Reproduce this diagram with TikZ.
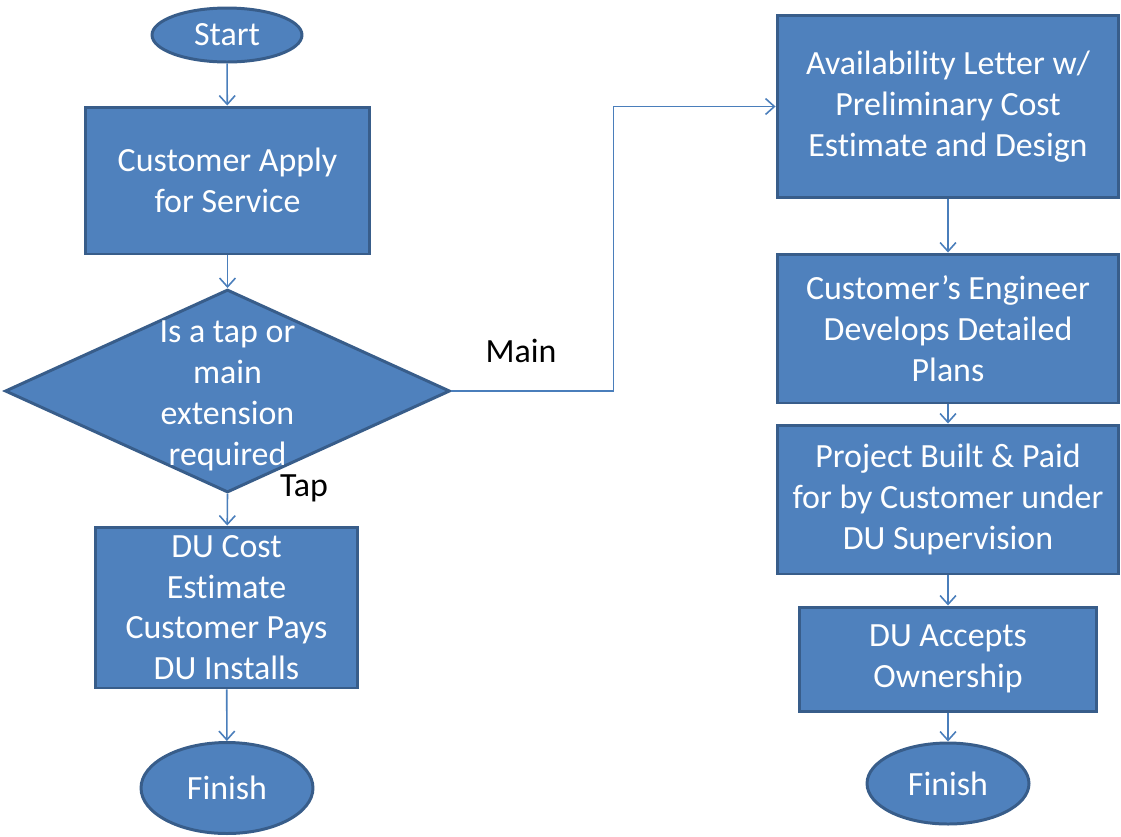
\documentclass[tikz,border=0pt]{standalone}
\usepackage{fontspec}
\setmainfont{Carlito}[Ligatures=CommonOff]
\usepackage{tikz}
\usetikzlibrary{shapes.geometric,arrows.meta}
\definecolor{boxfill}{HTML}{4F81BD}
\definecolor{boxline}{HTML}{385D8A}
\definecolor{flowline}{HTML}{4A7EBB}
\begin{document}
\begin{tikzpicture}
            [
            x=0.02cm,y=-0.02cm,
            every node/.style={font={\fontsize{19.3}{23.2}\selectfont}},
            stepbox/.style={rectangle,draw=boxline,fill=boxfill,line width=1.7pt,
                text=white,align=center,inner sep=0pt},
            terminal/.style={ellipse,draw=boxline,fill=boxfill,line width=1.7pt,
                text=white,inner sep=0pt},
            decision/.style={diamond,draw=boxline,fill=boxfill,line width=1.7pt,
                inner sep=0pt},
            dtext/.style={text=white,align=center,yshift=-2.8pt},
            lbl/.style={text=black},
            flow/.style={draw=flowline,line width=0.9pt,
                -{Straight Barb[length=5pt,width=9pt]}},
            ]
            \useasboundingbox (0,0) rectangle (1121,836);

            % Left column
            \node[terminal,minimum width=3cm,minimum height=1.08cm] (start) at (227,35) {Start};
            \node[stepbox,minimum width=5.7cm,minimum height=2.94cm] (apply) at (227.5,180.5)
                {Customer Apply\\for Service};
            \node[decision,minimum width=8.9cm,minimum height=4.06cm,
                label={[dtext]center:Is a tap or\\main\\extension\\required}] (decide) at (227.5,391) {};
            \node[stepbox,minimum width=5.26cm,minimum height=3.22cm] (cost) at (226.5,607.5)
                {DU Cost\\Estimate\\Customer Pays\\DU Installs};
            \node[terminal,minimum width=3.44cm,minimum height=1.82cm] (finL) at (227,788) {Finish};

            % Right column
            \node[stepbox,minimum width=6.84cm,minimum height=3.66cm] (avail) at (948,106.5)
                {Availability Letter w/\\Preliminary Cost\\Estimate and Design};
            \node[stepbox,minimum width=6.84cm,minimum height=2.98cm] (eng) at (948,328.5)
                {Customer’s Engineer\\Develops Detailed\\Plans};
            \node[stepbox,minimum width=6.84cm,minimum height=2.98cm] (built) at (948,499.5)
                {Project Built \& Paid\\for by Customer under\\DU Supervision};
            \node[stepbox,minimum width=5.96cm,minimum height=2.08cm] (accept) at (948,659)
                {DU Accepts\\Ownership};
            \node[terminal,minimum width=3.24cm,minimum height=1.62cm] (finR) at (948,783.5) {Finish};

            % Labels
            \node[lbl] (mainlbl) at (521,351) {Main};
            \node[lbl] (taplbl) at (304,488) {Tap};

            % Connectors
            \draw[flow] (start) -- (apply);
            \draw[flow] (apply) -- (decide);
            \draw[flow] (decide.south) -- (cost);
            \draw[flow] (cost) -- (finL);
            \draw[flow] (decide.east) -- ++(162,0) |- (avail.west);
            \draw[flow] (avail) -- (eng);
            \draw[flow] (eng) -- (built);
            \draw[flow] (built) -- (accept);
            \draw[flow] (accept) -- (finR);

        \end{tikzpicture}
\end{document}
